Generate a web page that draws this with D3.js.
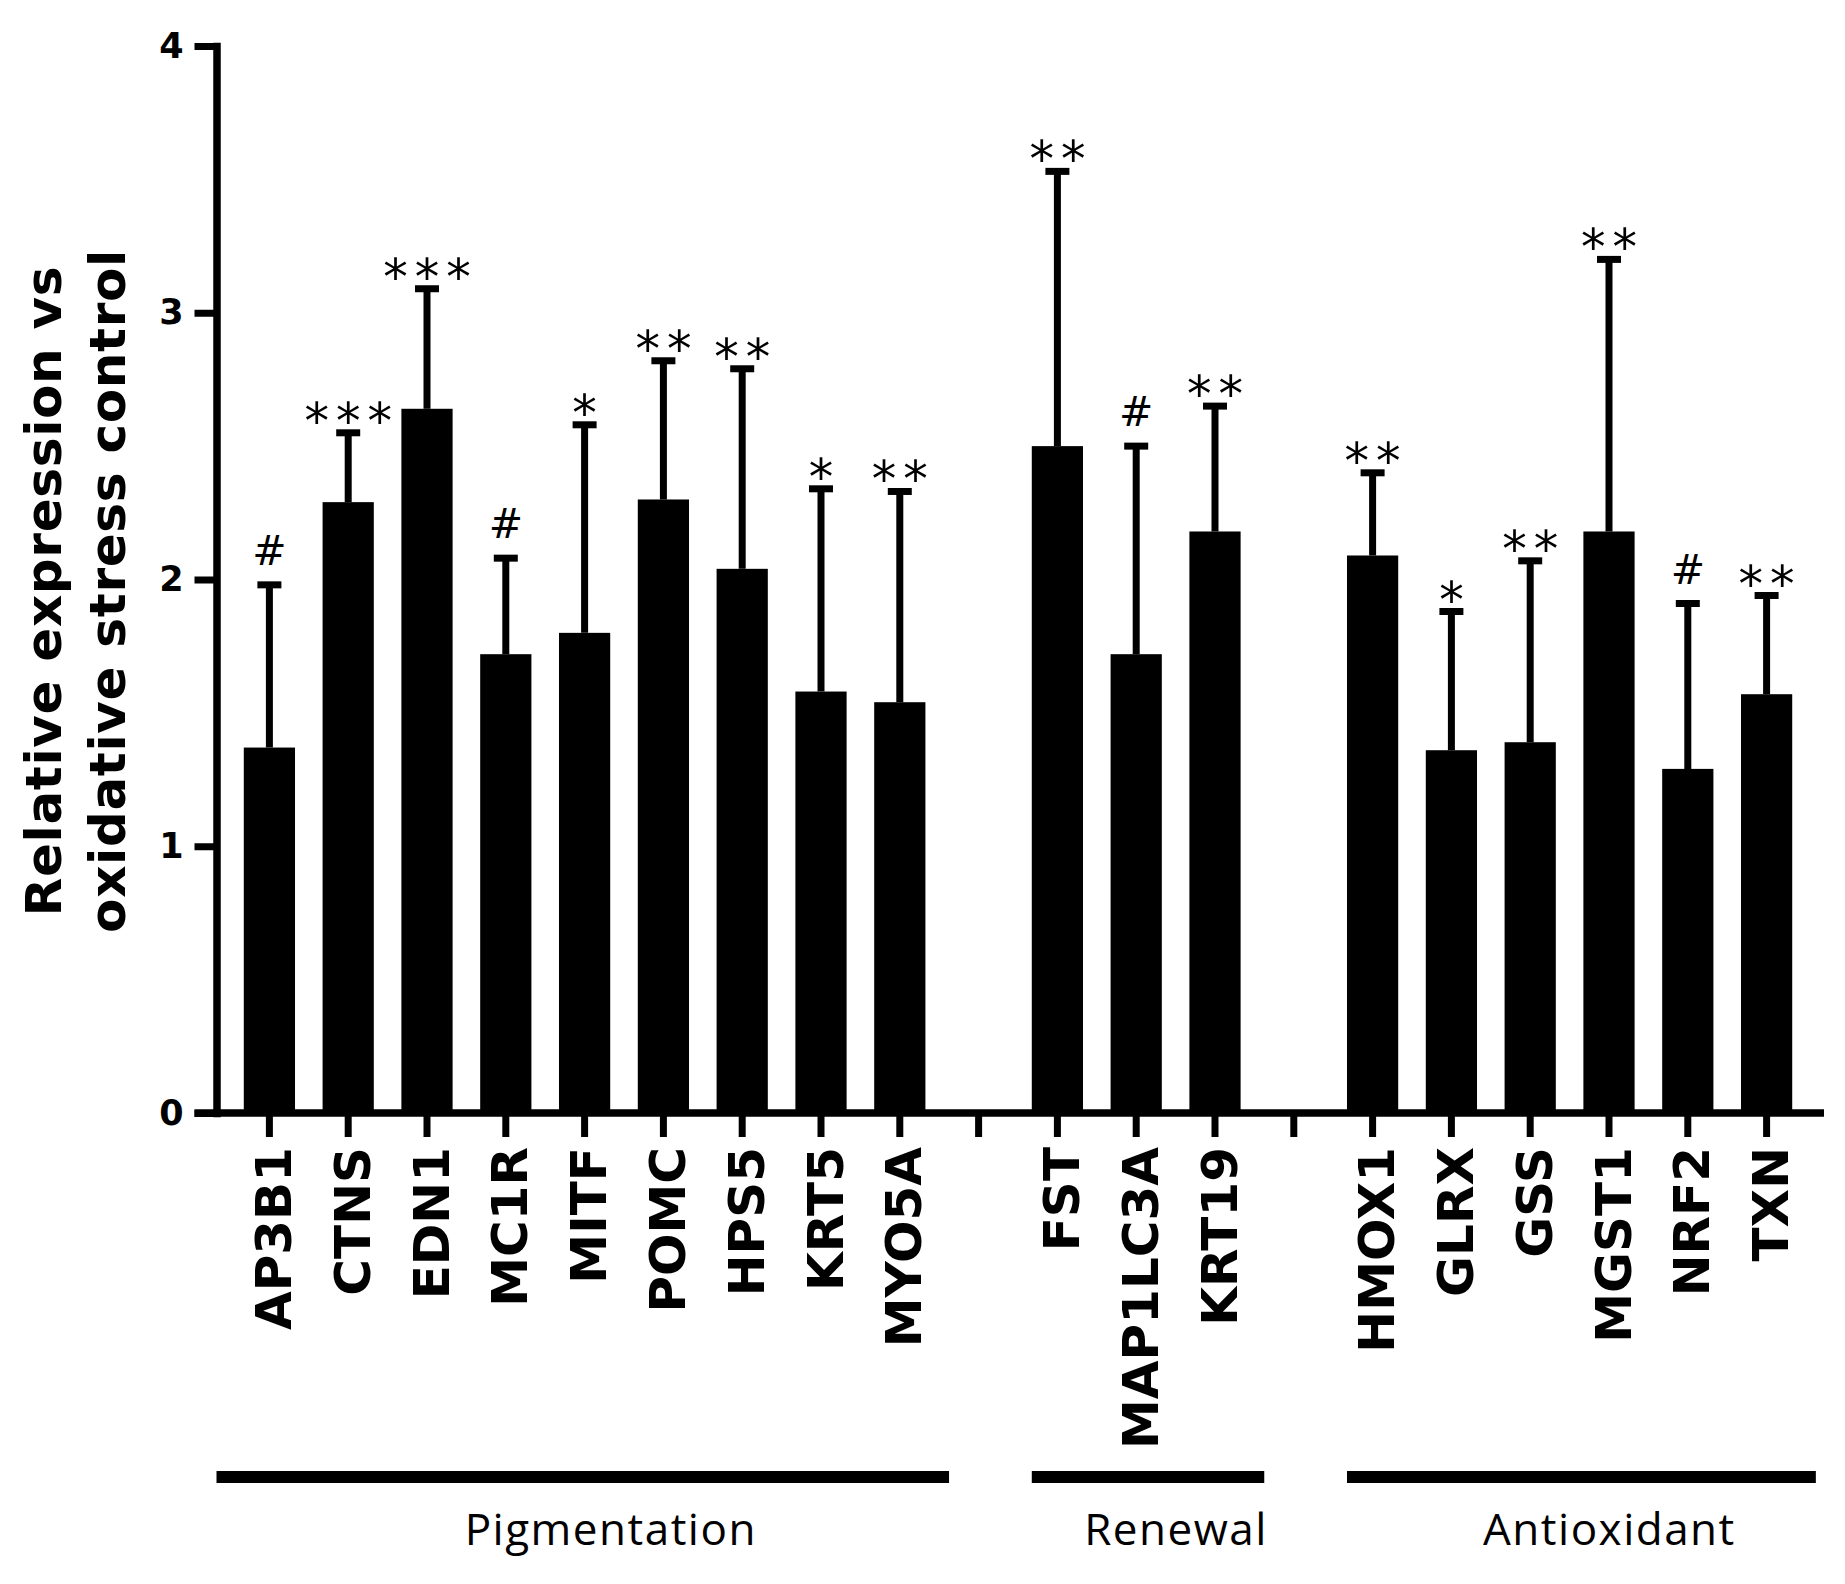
<!DOCTYPE html>
<html>
<head>
<meta charset="utf-8">
<script src="https://cdn.jsdelivr.net/npm/d3@7"></script>
<style>
  body { margin: 0; background: #fff; }
  svg { display: block; }
  .axis-title { font-family: "DejaVu Sans", Verdana, sans-serif; font-weight: bold; font-size: 50px; letter-spacing: 0.7px; }
  .group-label { font-family: "Open Sans", sans-serif; font-size: 44px; letter-spacing: 1.5px; }
  .mark { font-family: "DejaVu Sans", sans-serif; }
</style>
</head>
<body>
<div id="chart"></div>
<script>
// gene groups, in plotting order
const pigmentationGenes = ['AP3B1', 'CTNS', 'EDN1', 'MC1R', 'MITF', 'POMC', 'HPS5', 'KRT5', 'MYO5A'];
const renewalGenes = ['FST', 'MAP1LC3A', 'KRT19'];
const antioxidantGenes = ['HMOX1', 'GLRX', 'GSS', 'MGST1', 'NRF2', 'TXN'];
const groupNames = ['Pigmentation', 'Renewal', 'Antioxidant'];

// mean relative expression, same order as the genes above
const meanValues = [1.37, 2.29, 2.64, 1.72, 1.80, 2.30, 2.04, 1.58, 1.54,
  2.50, 1.72, 2.18,
  2.09, 1.36, 1.39, 2.18, 1.29, 1.57];
// upper error (SD)
const errorValues = [0.61, 0.26, 0.45, 0.36, 0.78, 0.52, 0.75, 0.76, 0.79,
  1.03, 0.78, 0.47,
  0.31, 0.52, 0.68, 1.02, 0.62, 0.37];
const significance = ['#', '***', '***', '#', '*', '**', '**', '*', '**',
  '**', '#', '**',
  '**', '*', '**', '**', '#', '**'];
const yTicks = [0, 1, 2, 3, 4];

const width = 1845;
const height = 1584;

const groups = [pigmentationGenes, renewalGenes, antioxidantGenes];
const genes = groups.flat();
// one empty slot between groups
const slots = [];
groups.forEach((g, i) => {
  if (i > 0) slots.push('gap' + i);
  slots.push(...g);
});

const data = genes.map((name, i) => ({
  name,
  value: meanValues[i],
  error: errorValues[i],
  mark: significance[i],
}));

const svg = d3.select('#chart').append('svg')
  .attr('width', width)
  .attr('height', height);

const xScale = d3.scaleBand()
  .domain(slots)
  .range([230, 1806])
  .paddingInner(0.35)
  .paddingOuter(0.175);

const yScale = d3.scaleLinear()
  .domain([0, 4])
  .range([1113, 46]);

const bw = xScale.bandwidth();
const step = xScale.step();
const axisX = 216.5;

// bars
svg.append('g').attr('class', 'bars')
  .selectAll('rect')
  .data(data)
  .join('rect')
  .attr('x', d => xScale(d.name))
  .attr('width', bw)
  .attr('y', d => yScale(d.value))
  .attr('height', d => yScale(0) - yScale(d.value))
  .attr('fill', '#000');

// error bars (upper only)
const errs = svg.append('g').attr('class', 'errors')
  .selectAll('g')
  .data(data)
  .join('g')
  .attr('transform', d => `translate(${xScale(d.name) + bw / 2},0)`);

errs.append('line')
  .attr('x1', 0).attr('x2', 0)
  .attr('y1', d => yScale(d.value))
  .attr('y2', d => yScale(d.value + d.error))
  .attr('stroke', '#000')
  .attr('stroke-width', 7);

errs.append('line')
  .attr('x1', -12).attr('x2', 12)
  .attr('y1', d => yScale(d.value + d.error))
  .attr('y2', d => yScale(d.value + d.error))
  .attr('stroke', '#000')
  .attr('stroke-width', 7);

// significance marks
errs.append('text')
  .attr('class', 'mark')
  .attr('text-anchor', 'middle')
  .attr('y', d => yScale(d.value + d.error) + (d.mark === '#' ? -20 : 5))
  .attr('dx', d => (d.mark === '#' ? 0 : 3.5))
  .style('font-size', d => (d.mark === '#' ? '41px' : '49px'))
  .style('letter-spacing', d => (d.mark === '#' ? '0px' : '7px'))
  .text(d => d.mark);

// y axis
const yAxis = svg.append('g')
  .attr('transform', `translate(${axisX},0)`)
  .call(d3.axisLeft(yScale)
    .tickValues(yTicks)
    .tickFormat(d3.format('d'))
    .tickSize(22)
    .tickSizeOuter(0)
    .tickPadding(11));

yAxis.select('.domain')
  .attr('stroke-width', 7.5)
  .attr('stroke-linecap', 'square');
yAxis.selectAll('.tick line').attr('stroke-width', 7);
yAxis.selectAll('.tick text')
  .attr('font-family', '"DejaVu Sans", Verdana, sans-serif')
  .attr('font-weight', 'bold')
  .attr('font-size', 35)
  .attr('fill', '#000');

// x axis
const xAxis = svg.append('g')
  .attr('transform', `translate(0,${yScale(0)})`)
  .call(d3.axisBottom(xScale)
    .tickSize(24)
    .tickSizeOuter(0)
    .tickFormat(d => (d.startsWith('gap') ? '' : d)));

xAxis.select('.domain').remove();
xAxis.append('line')
  .attr('x1', axisX - 22)
  .attr('x2', xScale.range()[1] + 18)
  .attr('stroke', '#000')
  .attr('stroke-width', 7.5);
xAxis.selectAll('.tick line').attr('stroke-width', 7);
xAxis.selectAll('.tick text')
  .attr('transform', 'rotate(-90)')
  .attr('text-anchor', 'end')
  .attr('x', -34)
  .attr('y', 0)
  .attr('dy', '0.43em')
  .attr('font-family', '"DejaVu Sans", Verdana, sans-serif')
  .attr('font-weight', 'bold')
  .attr('font-size', 50)
  .attr('fill', '#000');

// group brackets
const groupLines = groups.map((g, i) => ({
  name: groupNames[i],
  x1: i === 0 ? axisX : xScale(g[0]),
  x2: xScale(g[g.length - 1]) + bw + step * 0.3,
}));

const groupG = svg.append('g').attr('class', 'groups')
  .selectAll('g')
  .data(groupLines)
  .join('g');

groupG.append('line')
  .attr('x1', d => d.x1)
  .attr('x2', d => d.x2)
  .attr('y1', 1477)
  .attr('y2', 1477)
  .attr('stroke', '#000')
  .attr('stroke-width', 12);

groupG.append('text')
  .attr('class', 'group-label')
  .attr('x', d => (d.x1 + d.x2) / 2 + 28)
  .attr('y', 1545)
  .attr('text-anchor', 'middle')
  .text(d => d.name);

// y axis title
const title = svg.append('g')
  .attr('transform', 'translate(0,591) rotate(-90)');

title.append('text')
  .attr('class', 'axis-title')
  .attr('text-anchor', 'middle')
  .attr('y', 61)
  .text('Relative expression vs');

title.append('text')
  .attr('class', 'axis-title')
  .attr('text-anchor', 'middle')
  .attr('y', 125)
  .text('oxidative stress control');
</script>
</body>
</html>
